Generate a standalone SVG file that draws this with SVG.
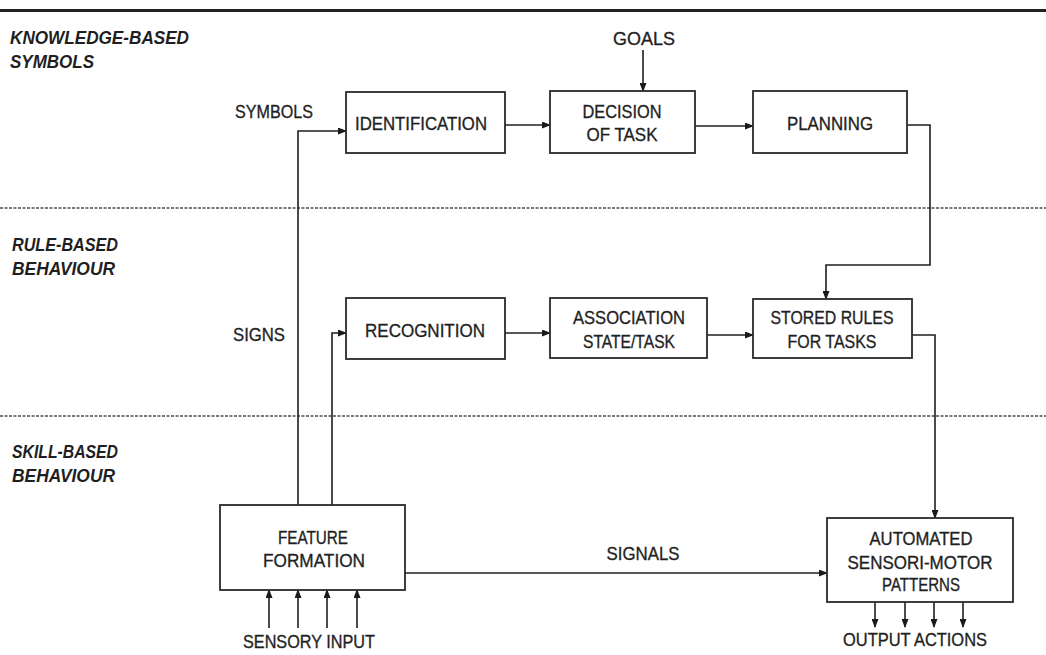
<svg xmlns="http://www.w3.org/2000/svg" width="1046" height="655" viewBox="0 0 1046 655">
<defs>
<marker id="ah" markerWidth="9" markerHeight="7" refX="8" refY="3.5" orient="auto" markerUnits="userSpaceOnUse">
<path d="M0,0 L9,3.5 L0,7 Z" fill="#1a1a1a"/>
</marker>
</defs>
<style>
text{font-family:"Liberation Sans",Arial,sans-serif;font-size:19px;fill:#1f1f1f;stroke:#1f1f1f;stroke-width:0.35;}
.lvl{font-style:italic;font-weight:bold;stroke-width:0;}
.box{fill:#fff;stroke:#2a2a2a;stroke-width:1.8;}
.con{fill:none;stroke:#1f1f1f;stroke-width:1.6;}
.arr{marker-end:url(#ah);}
.sep{stroke:#777;stroke-width:2;stroke-dasharray:3,1.5;}
</style>
<rect width="1046" height="655" fill="#fff"/>
<line x1="0" y1="10.5" x2="1046" y2="10.5" stroke="#222" stroke-width="3"/>
<line class="sep" x1="0" y1="208" x2="1046" y2="208"/>
<line class="sep" x1="0" y1="416" x2="1046" y2="416"/>

<g id="levels">
<text class="lvl" x="10" y="44" textLength="179" lengthAdjust="spacingAndGlyphs">KNOWLEDGE-BASED</text>
<text class="lvl" x="10" y="68" textLength="84" lengthAdjust="spacingAndGlyphs">SYMBOLS</text>
<text class="lvl" x="12" y="251" textLength="106" lengthAdjust="spacingAndGlyphs">RULE-BASED</text>
<text class="lvl" x="12" y="275" textLength="103" lengthAdjust="spacingAndGlyphs">BEHAVIOUR</text>
<text class="lvl" x="12" y="458" textLength="106" lengthAdjust="spacingAndGlyphs">SKILL-BASED</text>
<text class="lvl" x="12" y="482" textLength="103" lengthAdjust="spacingAndGlyphs">BEHAVIOUR</text>
</g>

<g id="connectors">
<path class="con arr" d="M298,505 V131 H346"/>
<path class="con arr" d="M332,505 V333 H346"/>
<path class="con arr" d="M505,125 H550"/>
<path class="con arr" d="M643,50 V91"/>
<path class="con arr" d="M695,126 H753"/>
<path class="con arr" d="M907,125 H930 V265 H826 V299"/>
<path class="con arr" d="M505,333 H550"/>
<path class="con arr" d="M707,335 H753"/>
<path class="con arr" d="M912,335 H935 V518"/>
<path class="con arr" d="M405,573 H827"/>
<path class="con arr" d="M269,628 V590"/>
<path class="con arr" d="M298,628 V590"/>
<path class="con arr" d="M327,628 V590"/>
<path class="con arr" d="M357,628 V590"/>
<path class="con arr" d="M875,602 V627"/>
<path class="con arr" d="M905,602 V627"/>
<path class="con arr" d="M934,602 V627"/>
<path class="con arr" d="M963,602 V627"/>
</g>

<g id="labels">
<text x="644" y="45" text-anchor="middle" textLength="62" lengthAdjust="spacingAndGlyphs">GOALS</text>
<text x="274" y="118" text-anchor="middle" textLength="78" lengthAdjust="spacingAndGlyphs">SYMBOLS</text>
<text x="259" y="341" text-anchor="middle" textLength="52" lengthAdjust="spacingAndGlyphs">SIGNS</text>
<text x="643" y="560" text-anchor="middle" textLength="73" lengthAdjust="spacingAndGlyphs">SIGNALS</text>
<text x="309" y="648" text-anchor="middle" textLength="132" lengthAdjust="spacingAndGlyphs">SENSORY INPUT</text>
<text x="915" y="646" text-anchor="middle" textLength="144" lengthAdjust="spacingAndGlyphs">OUTPUT ACTIONS</text>
</g>

<g id="identification">
<rect class="box" x="346" y="92" width="159" height="61"/>
<text x="421" y="130" text-anchor="middle" textLength="132" lengthAdjust="spacingAndGlyphs">IDENTIFICATION</text>
</g>
<g id="decision">
<rect class="box" x="550" y="91" width="145" height="62"/>
<text x="622" y="118" text-anchor="middle" textLength="79" lengthAdjust="spacingAndGlyphs">DECISION</text>
<text x="622" y="141" text-anchor="middle" textLength="71" lengthAdjust="spacingAndGlyphs">OF TASK</text>
</g>
<g id="planning">
<rect class="box" x="753" y="91" width="154" height="62"/>
<text x="830" y="130" text-anchor="middle" textLength="86" lengthAdjust="spacingAndGlyphs">PLANNING</text>
</g>
<g id="recognition">
<rect class="box" x="346" y="298" width="159" height="61"/>
<text x="425" y="337" text-anchor="middle" textLength="120" lengthAdjust="spacingAndGlyphs">RECOGNITION</text>
</g>
<g id="association">
<rect class="box" x="550" y="298" width="157" height="60"/>
<text x="629" y="324" text-anchor="middle" textLength="112" lengthAdjust="spacingAndGlyphs">ASSOCIATION</text>
<text x="629" y="348" text-anchor="middle" textLength="92" lengthAdjust="spacingAndGlyphs">STATE/TASK</text>
</g>
<g id="stored-rules">
<rect class="box" x="753" y="299" width="159" height="59"/>
<text x="832" y="324" text-anchor="middle" textLength="123" lengthAdjust="spacingAndGlyphs">STORED RULES</text>
<text x="832" y="348" text-anchor="middle" textLength="89" lengthAdjust="spacingAndGlyphs">FOR TASKS</text>
</g>
<g id="feature-formation">
<rect class="box" x="220" y="505" width="185" height="85"/>
<text x="313" y="544" text-anchor="middle" textLength="70" lengthAdjust="spacingAndGlyphs">FEATURE</text>
<text x="314" y="567" text-anchor="middle" textLength="102" lengthAdjust="spacingAndGlyphs">FORMATION</text>
</g>
<g id="automated">
<rect class="box" x="827" y="518" width="186" height="84"/>
<text x="921" y="545" text-anchor="middle" textLength="103" lengthAdjust="spacingAndGlyphs">AUTOMATED</text>
<text x="920" y="569" text-anchor="middle" textLength="145" lengthAdjust="spacingAndGlyphs">SENSORI-MOTOR</text>
<text x="921" y="591" text-anchor="middle" textLength="78" lengthAdjust="spacingAndGlyphs">PATTERNS</text>
</g>
</svg>
